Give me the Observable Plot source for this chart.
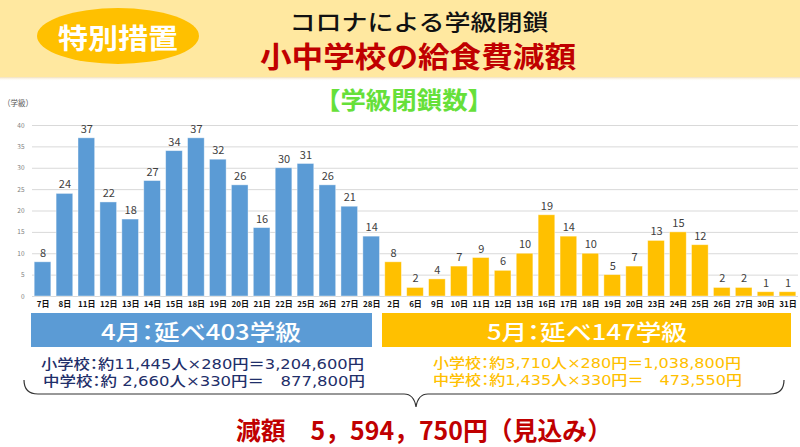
<!DOCTYPE html>
<html>
<head>
<meta charset="utf-8">
<script src="https://cdn.jsdelivr.net/npm/d3@7"></script>
<script src="https://cdn.jsdelivr.net/npm/@observablehq/plot@0.6"></script>
<style>
  html, body { margin: 0; padding: 0; background: #fff; }
  #wrap { position: relative; width: 800px; height: 447px; overflow: hidden; font-family: "Noto Sans CJK JP", sans-serif; }
  #chart { position: absolute; left: 0; top: 0; }
  #overlay { position: absolute; left: 0; top: 0; pointer-events: none; }
  .palt { font-feature-settings: "palt" 1; }
</style>
</head>
<body>
<div id="wrap">
  <div id="chart"></div>
  <svg id="overlay" width="800" height="447" font-family="Noto Sans CJK JP, sans-serif"></svg>
</div>
<script>
// ---- data ----
const aprilDays = ["7日","8日","11日","12日","13日","14日","15日","18日","19日","20日","21日","22日","25日","26日","27日","28日"];
const aprilValues = [8,24,37,22,18,27,34,37,32,26,16,30,31,26,21,14];
const mayDays = ["2日","6日","9日","10日","11日","12日","13日","16日","17日","18日","19日","20日","23日","24日","25日","26日","27日","30日","31日"];
const mayValues = [8,2,4,7,9,6,10,19,14,10,5,7,13,15,12,2,2,1,1];
const yTicks = [0,5,10,15,20,25,30,35,40];
const months = ["4月","5月"];
const monthColors = ["#5B9BD5","#FFC000"];

const badgeText = "特別措置";
const titleLine1 = "コロナによる学級閉鎖";
const titleLine2 = "小中学校の給食費減額";
const chartTitle = "【学級閉鎖数】";
const yUnit = "（学級）";
const aprilSummary = "4月：延べ403学級";
const maySummary = "5月：延べ147学級";
const aprilLines = ["小学校：約11,445人×280円＝3,204,600円", "中学校：約 2,660人×330円＝　877,800円"];
const mayLines = ["小学校：約3,710人×280円＝1,038,800円", "中学校：約1,435人×330円＝　473,550円"];
const totalText = "減額　5，594，750円（見込み）";

// ---- table ----
const rows = [
  ...aprilDays.map((d, i) => ({key: "4-" + d, label: d, value: aprilValues[i], month: months[0]})),
  ...mayDays.map((d, i) => ({key: "5-" + d, label: d, value: mayValues[i], month: months[1]}))
];
const labelOf = new Map(rows.map(r => [r.key, r.label]));

const chart = Plot.plot({
  width: 800,
  height: 447,
  marginTop: 125,
  marginBottom: 151,
  marginLeft: 32,
  marginRight: 2,
  style: {fontFamily: "Noto Sans CJK JP, sans-serif", background: "transparent"},
  x: {domain: rows.map(r => r.key), paddingInner: 0.24, paddingOuter: 0.1, label: null},
  y: {domain: [0, 40], label: null},
  color: {domain: months, range: monthColors},
  marks: [
    Plot.gridY(yTicks, {stroke: "#d9d9d9", strokeOpacity: 1, strokeWidth: 1}),
    Plot.axisY(yTicks, {tickSize: 0, tickPadding: 8, fontSize: 6.5, fill: "#808080", label: null}),
    Plot.axisX({tickSize: 0, tickPadding: 5, fontSize: 8, fontWeight: "bold", fill: "#111", tickFormat: k => labelOf.get(k), label: null}),
    Plot.barY(rows, {x: "key", y: "value", fill: "month", stroke: "#ffffff", strokeOpacity: 0.5, strokeWidth: 0.8}),
    Plot.text(rows, {x: "key", y: "value", text: d => String(d.value), dy: -9, fontSize: 11, fill: "#404040"})
  ]
});
document.getElementById("chart").appendChild(chart);

// ---- overlay annotations ----
const ov = d3.select("#overlay");
const hdr = ov.append("defs").append("linearGradient").attr("id", "shade").attr("x1", 0).attr("x2", 0).attr("y1", 0).attr("y2", 1);
hdr.append("stop").attr("offset", "0").attr("stop-color", "#e8c98a").attr("stop-opacity", 0.6);
hdr.append("stop").attr("offset", "1").attr("stop-color", "#ffffff").attr("stop-opacity", 0);
ov.append("rect").attr("x", 0).attr("y", 0).attr("width", 800).attr("height", 77).attr("fill", "#FFE8A0");
ov.append("rect").attr("x", 0).attr("y", 77).attr("width", 800).attr("height", 4).attr("fill", "url(#shade)");
ov.append("ellipse").attr("cx", 118).attr("cy", 36).attr("rx", 81).attr("ry", 28).attr("fill", "#FFC000");

function txt(s, x, y, o) {
  const t = ov.append("text").attr("x", x).attr("y", y)
    .attr("dominant-baseline", "central")
    .attr("text-anchor", o.anchor || "middle")
    .attr("font-size", o.size).attr("font-weight", o.weight || 400)
    .attr("fill", o.fill).text(s);
  if (o.family) t.attr("font-family", o.family);
  if (o.cls) t.attr("class", o.cls);
  if (o.len) t.attr("textLength", o.len).attr("lengthAdjust", "spacingAndGlyphs");
  return t;
}
const mixed = "DejaVu Sans, Noto Sans CJK JP, sans-serif";
txt(badgeText, 118, 37, {size: 28, weight: 700, fill: "#fff", len: 120});
txt(titleLine1, 419, 20, {size: 22, weight: 500, fill: "#111", len: 259});
txt(titleLine2, 418, 55, {size: 29, weight: 700, fill: "#C00000", len: 316});
txt(chartTitle, 404, 98, {size: 24, weight: 700, fill: "#66E03A", len: 178});
txt(yUnit, 3, 102, {size: 8.5, anchor: "start", fill: "#595959", len: 30});

ov.append("rect").attr("x", 31).attr("y", 313).attr("width", 341).attr("height", 34).attr("fill", monthColors[0]);
ov.append("rect").attr("x", 382).attr("y", 313).attr("width", 409).attr("height", 34).attr("fill", monthColors[1]);
txt(aprilSummary, 201, 330, {size: 22, weight: 500, fill: "#fff", len: 200, cls: "palt"});
txt(maySummary, 587, 330, {size: 22, weight: 500, fill: "#fff", len: 200, cls: "palt"});

txt(aprilLines[0], 41, 364, {size: 14, weight: 500, anchor: "start", fill: "#1F2F6A", len: 323, family: mixed, cls: "palt"});
txt(aprilLines[1], 43, 381, {size: 14, weight: 500, anchor: "start", fill: "#1F2F6A", len: 322, family: mixed, cls: "palt"});
txt(mayLines[0], 433, 363, {size: 14, weight: 500, anchor: "start", fill: "#FFC000", len: 308, family: mixed, cls: "palt"});
txt(mayLines[1], 433, 380, {size: 14, weight: 500, anchor: "start", fill: "#FFC000", len: 309, family: mixed, cls: "palt"});

ov.append("path")
  .attr("d", "M24,380 Q24,394 38,394 L404,394 Q414,394 416,407 Q418,394 428,394 L770,394 Q784,394 784,380")
  .attr("fill", "none").attr("stroke", "#333").attr("stroke-width", 1.2);

txt(totalText, 424, 429, {size: 25, weight: 700, fill: "#C00000", len: 376});
</script>
</body>
</html>
